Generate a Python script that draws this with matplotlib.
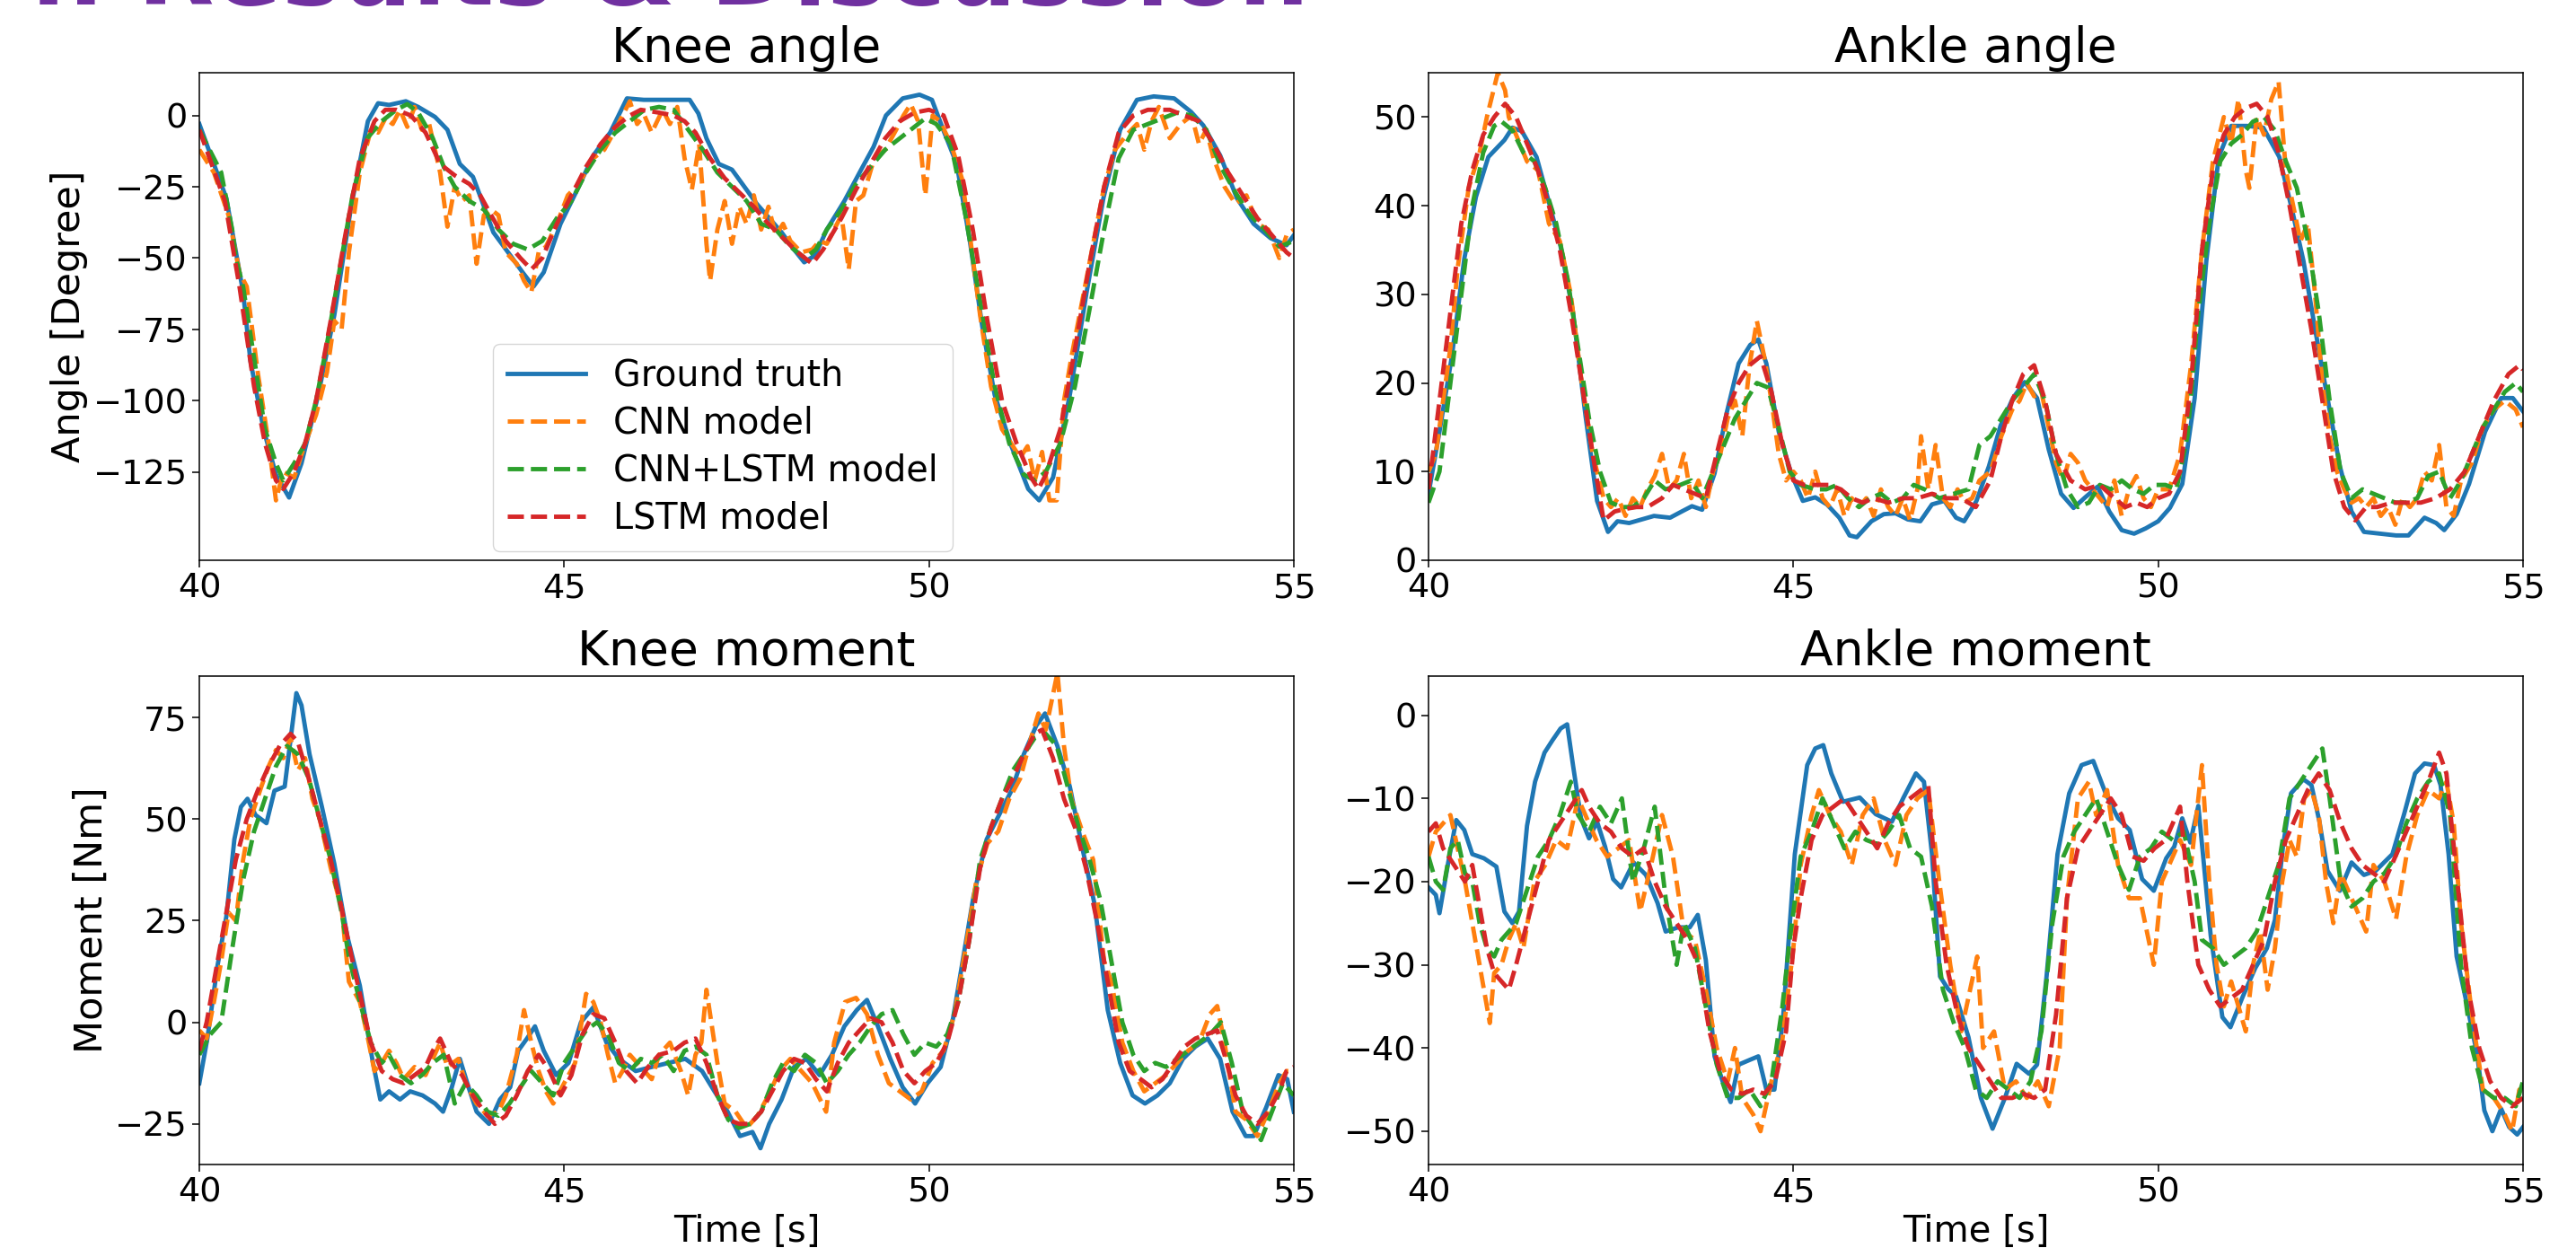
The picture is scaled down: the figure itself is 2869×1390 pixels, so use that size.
import matplotlib
matplotlib.use("Agg")
import matplotlib.pyplot as plt

# ---------------- data (time [s], value) ----------------
time_ticks = [40, 45, 50, 55]
series_labels = ["Ground truth", "CNN model", "CNN+LSTM model", "LSTM model"]

knee_angle_gt = [(40, -3), (40.37, -29), (40.6, -62), (40.7, -86), (40.88, -110), (41.05, -126), (41.23, -134),
                 (41.4, -122), (41.63, -98), (41.85, -70), (42.08, -32), (42.31, -2), (42.45, 4.3), (42.6, 3.7),
                 (42.83, 5), (43.0, 3), (43.23, -0.5), (43.4, -5), (43.57, -17), (43.75, -21.5), (43.86, -29),
                 (44.03, -41), (44.26, -49), (44.43, -55), (44.58, -60), (44.72, -55), (44.95, -38), (45.18, -26),
                 (45.4, -14), (45.63, -6), (45.86, 6), (46.09, 5.5), (46.43, 5.5), (46.72, 5.5), (46.84, 0.7),
                 (46.95, -8), (47.12, -17), (47.3, -19), (47.47, -25), (47.64, -31), (47.81, -36), (47.98, -41),
                 (48.15, -47), (48.29, -51.5), (48.44, -49), (48.6, -40), (48.84, -30), (49.07, -19), (49.24, -11),
                 (49.41, 0), (49.64, 6), (49.87, 7.3), (50.04, 5.5), (50.21, -6), (50.38, -17), (50.56, -44),
                 (50.73, -74), (50.9, -98), (51.13, -116), (51.36, -131), (51.51, -135), (51.7, -127), (51.93, -98),
                 (52.16, -62), (52.39, -29), (52.62, -5), (52.85, 5.5), (53.08, 6.7), (53.36, 6), (53.59, 1.3),
                 (53.76, -3.5), (53.99, -14), (54.22, -29), (54.45, -38), (54.68, -43), (54.9, -45.5), (55, -42)]

knee_angle_cnn = [(40, -12), (40.2, -20), (40.4, -35), (40.55, -55), (40.65, -60), (40.8, -90), (40.95, -115),
                  (41.05, -135), (41.15, -125), (41.3, -127), (41.45, -115), (41.6, -105), (41.75, -90),
                  (41.85, -72), (41.95, -75), (42.05, -48), (42.2, -20), (42.35, -5), (42.45, -6), (42.55, -1),
                  (42.65, -3), (42.75, 2), (42.85, -4), (42.95, 3), (43.05, -5), (43.15, -3), (43.3, -20),
                  (43.4, -39), (43.5, -25), (43.6, -30), (43.7, -28), (43.8, -52), (43.9, -35), (44.0, -33),
                  (44.1, -35), (44.2, -48), (44.35, -52), (44.45, -58), (44.55, -62), (44.65, -48), (44.75, -46),
                  (44.9, -38), (45.05, -28), (45.2, -24), (45.4, -15), (45.55, -12), (45.7, -5), (45.8, 0),
                  (45.9, 5), (46.0, -3), (46.1, 0), (46.2, -6), (46.35, 2), (46.45, -3), (46.55, 3), (46.65, -15),
                  (46.75, -26), (46.85, -10), (46.95, -45), (47.0, -58), (47.1, -40), (47.2, -30), (47.3, -45),
                  (47.4, -32), (47.5, -38), (47.6, -28), (47.7, -40), (47.8, -32), (47.9, -42), (48.0, -38),
                  (48.1, -44), (48.25, -48), (48.4, -47), (48.5, -44), (48.6, -45), (48.7, -40), (48.8, -35),
                  (48.9, -54), (49.0, -30), (49.1, -28), (49.25, -15), (49.4, -12), (49.55, -5), (49.65, 0),
                  (49.75, 4), (49.85, -2), (49.95, -28), (50.05, 0), (50.15, -2), (50.3, -10), (50.45, -22),
                  (50.55, -40), (50.7, -70), (50.85, -95), (51.0, -110), (51.15, -116), (51.25, -120),
                  (51.35, -116), (51.45, -128), (51.55, -118), (51.65, -135), (51.75, -135), (51.85, -100),
                  (51.95, -85), (52.1, -65), (52.25, -45), (52.4, -25), (52.55, -12), (52.7, -7), (52.85, -3),
                  (52.95, -12), (53.05, -2), (53.15, 3), (53.3, -8), (53.45, -3), (53.6, 0), (53.7, -10),
                  (53.8, -5), (53.9, -15), (54.05, -25), (54.2, -31), (54.35, -28), (54.5, -38), (54.65, -40),
                  (54.8, -50), (54.9, -42), (55, -40)]

knee_angle_cnn_lstm = [(40, -5), (40.3, -20), (40.45, -40), (40.5, -50), (40.6, -60), (40.75, -85), (40.9, -110),
                       (41.05, -122), (41.15, -128), (41.3, -122), (41.45, -115), (41.6, -100), (41.75, -80),
                       (41.95, -50), (42.1, -28), (42.3, -8), (42.5, -2), (42.7, 2), (42.85, 4), (43.0, 1),
                       (43.2, -8), (43.35, -18), (43.5, -25), (43.7, -30), (43.9, -33), (44.1, -40), (44.3, -45),
                       (44.5, -47), (44.7, -44), (44.9, -36), (45.1, -30), (45.3, -20), (45.5, -12), (45.7, -6),
                       (45.9, -2), (46.1, 2), (46.3, 3), (46.5, 2), (46.7, -5), (46.9, -12), (47.1, -20),
                       (47.3, -25), (47.5, -30), (47.7, -38), (47.9, -40), (48.1, -46), (48.3, -50), (48.45, -47),
                       (48.6, -40), (48.8, -33), (49.0, -24), (49.2, -18), (49.4, -12), (49.6, -8), (49.8, -4),
                       (49.95, -1), (50.1, -3), (50.3, -10), (50.5, -35), (50.7, -65), (50.9, -95), (51.1, -115),
                       (51.3, -126), (51.45, -128), (51.6, -125), (51.8, -115), (52.0, -95), (52.2, -68),
                       (52.4, -40), (52.6, -15), (52.8, -5), (53.0, -3), (53.2, -1), (53.4, 1), (53.6, 0),
                       (53.8, -5), (54.0, -18), (54.2, -27), (54.4, -35), (54.6, -40), (54.8, -46), (55, -44)]

knee_angle_lstm = [(40, -5), (40.35, -30), (40.55, -60), (40.75, -95), (40.9, -115), (41.05, -128), (41.15, -131),
                   (41.3, -125), (41.45, -115), (41.6, -100), (41.8, -72), (42.0, -42), (42.2, -15), (42.4, -2),
                   (42.55, 2), (42.7, 2), (42.9, 0), (43.1, -6), (43.3, -17), (43.5, -21), (43.7, -24),
                   (43.85, -28), (44.0, -35), (44.2, -44), (44.4, -50), (44.55, -54), (44.7, -50), (44.9, -38),
                   (45.1, -28), (45.3, -18), (45.5, -10), (45.7, -4), (45.9, 0), (46.05, 2), (46.3, 1),
                   (46.5, 0), (46.65, -2), (46.8, -6), (47.0, -15), (47.2, -22), (47.4, -27), (47.6, -32),
                   (47.8, -38), (48.0, -43), (48.2, -48), (48.4, -52), (48.55, -47), (48.8, -36), (49.0, -26),
                   (49.2, -17), (49.4, -8), (49.6, -2), (49.8, 1), (50.0, 2), (50.2, 0), (50.4, -14),
                   (50.6, -40), (50.8, -72), (51.0, -100), (51.2, -115), (51.4, -127), (51.5, -131),
                   (51.6, -126), (51.8, -110), (52.0, -82), (52.2, -52), (52.4, -25), (52.6, -6), (52.8, 0),
                   (53.0, 2), (53.3, 2), (53.5, 0), (53.7, -2), (53.9, -10), (54.1, -20), (54.3, -28),
                   (54.5, -36), (54.7, -42), (54.9, -48), (55, -50)]

ankle_angle_gt = [(40, 7.5), (40.15, 14.5), (40.32, 23), (40.49, 34), (40.65, 41), (40.82, 45.5), (41.04, 47.4),
                  (41.15, 48.8), (41.28, 48.4), (41.48, 45.5), (41.65, 40.4), (41.81, 35.4), (41.98, 28),
                  (42.15, 16.4), (42.31, 6.7), (42.46, 3.2), (42.59, 4.4), (42.75, 4.2), (42.92, 4.6), (43.09, 5),
                  (43.31, 4.8), (43.47, 5.5), (43.61, 6.1), (43.75, 5.7), (43.92, 9.8), (44.08, 16.4),
                  (44.25, 22.2), (44.41, 24.3), (44.52, 24.9), (44.63, 22.2), (44.8, 14.5), (44.97, 9.8),
                  (45.13, 6.7), (45.3, 7.1), (45.46, 6.3), (45.63, 4.8), (45.77, 2.8), (45.87, 2.6), (46.07, 4.4),
                  (46.24, 5.2), (46.4, 5.3), (46.57, 4.6), (46.74, 4.4), (46.9, 6.3), (47.07, 6.7), (47.23, 4.8),
                  (47.34, 4.4), (47.51, 6.7), (47.68, 10.6), (47.84, 15.2), (48.01, 18.3), (48.17, 20.1),
                  (48.34, 18.3), (48.5, 12.5), (48.67, 7.5), (48.84, 5.9), (49.0, 7.1), (49.17, 8.3),
                  (49.33, 5.5), (49.5, 3.4), (49.67, 3), (49.83, 3.6), (50.0, 4.4), (50.16, 5.9), (50.33, 8.6),
                  (50.5, 18.3), (50.66, 33.8), (50.83, 45.5), (51.0, 49), (51.22, 49), (51.44, 48.8),
                  (51.66, 45.5), (51.83, 39.7), (51.99, 33.8), (52.15, 26.1), (52.32, 18.3), (52.49, 10.6),
                  (52.65, 5.5), (52.82, 3.2), (53.04, 3), (53.26, 2.8), (53.43, 2.8), (53.65, 4.8), (53.81, 4.2),
                  (53.92, 3.4), (54.09, 5.2), (54.26, 8.6), (54.48, 14.5), (54.7, 18.3), (54.86, 18.3), (55, 16.8)]

ankle_angle_cnn = [(40, 10), (40.1, 12), (40.2, 18), (40.3, 24), (40.4, 33), (40.55, 42), (40.7, 46), (40.8, 50),
                   (40.95, 55), (41.05, 53), (41.1, 50), (41.2, 48), (41.35, 45), (41.5, 44), (41.65, 38),
                   (41.8, 36), (41.95, 30), (42.1, 20), (42.25, 12), (42.4, 7), (42.5, 6), (42.6, 7), (42.7, 5),
                   (42.8, 7), (42.9, 6), (43.0, 8), (43.1, 9.5), (43.2, 12), (43.3, 8), (43.4, 9), (43.5, 12),
                   (43.6, 7), (43.7, 9), (43.8, 6), (43.9, 10), (44.0, 12), (44.1, 16), (44.2, 18), (44.3, 14),
                   (44.4, 22), (44.5, 27), (44.6, 23), (44.7, 18), (44.8, 12), (44.9, 9), (45.0, 10), (45.1, 9),
                   (45.2, 7), (45.3, 10), (45.4, 7), (45.5, 6), (45.6, 8), (45.7, 5), (45.8, 7), (45.9, 6),
                   (46.0, 7), (46.1, 5), (46.2, 8), (46.3, 6), (46.4, 5), (46.5, 7), (46.6, 4.5), (46.7, 8),
                   (46.75, 14), (46.85, 8), (46.95, 13), (47.05, 7), (47.15, 6), (47.25, 8), (47.35, 6.5),
                   (47.45, 7), (47.55, 9), (47.7, 10), (47.85, 14), (48.0, 17), (48.1, 18), (48.2, 20),
                   (48.3, 18.5), (48.4, 19), (48.5, 15), (48.6, 11), (48.7, 9), (48.8, 12), (48.9, 11), (49.0, 9),
                   (49.1, 8), (49.2, 7), (49.3, 6), (49.4, 9), (49.5, 5), (49.6, 8), (49.7, 9.5), (49.8, 7),
                   (49.9, 6), (50.0, 8), (50.15, 8), (50.3, 12), (50.45, 22), (50.6, 35), (50.75, 45), (50.9, 50),
                   (51.0, 47), (51.1, 52), (51.2, 44), (51.25, 42), (51.35, 50), (51.45, 48), (51.55, 52),
                   (51.65, 54), (51.75, 44), (51.85, 40), (51.95, 36), (52.05, 38), (52.15, 30), (52.25, 20),
                   (52.35, 14), (52.45, 10), (52.55, 8), (52.65, 6.5), (52.75, 7), (52.85, 6), (52.95, 7),
                   (53.05, 5), (53.15, 6), (53.25, 4), (53.35, 7), (53.45, 6), (53.55, 7), (53.65, 10),
                   (53.75, 9), (53.85, 13), (53.95, 6), (54.05, 5), (54.15, 9), (54.3, 11), (54.45, 15),
                   (54.6, 17), (54.75, 18), (54.9, 17), (55, 15)]

ankle_angle_cnn_lstm = [(40, 6.5), (40.15, 10), (40.3, 20), (40.45, 30), (40.6, 40), (40.75, 46), (40.9, 49),
                        (41.0, 49.5), (41.15, 48.5), (41.3, 46), (41.45, 45), (41.6, 42), (41.75, 38), (41.9, 32),
                        (42.05, 24), (42.2, 16), (42.35, 10), (42.5, 6.5), (42.65, 6), (42.8, 6), (42.95, 7),
                        (43.1, 9), (43.25, 8), (43.45, 8.5), (43.6, 9), (43.75, 7), (43.9, 10), (44.05, 13),
                        (44.2, 16), (44.35, 18), (44.5, 20), (44.65, 19.5), (44.8, 15), (44.95, 10), (45.1, 8.5),
                        (45.3, 8), (45.45, 8), (45.6, 8.5), (45.75, 7), (45.9, 6), (46.05, 7), (46.2, 7.5),
                        (46.35, 6.5), (46.5, 7), (46.65, 8.5), (46.8, 8), (47.0, 7), (47.2, 7.5), (47.4, 8),
                        (47.55, 13), (47.7, 14), (47.85, 16), (48.0, 18), (48.15, 19.5), (48.3, 21), (48.45, 18),
                        (48.6, 12), (48.75, 8), (48.9, 6), (49.05, 6.5), (49.2, 8.5), (49.35, 8), (49.5, 9),
                        (49.65, 8), (49.8, 7.5), (49.95, 8.5), (50.1, 8.5), (50.25, 8), (50.4, 14), (50.55, 28),
                        (50.7, 38), (50.85, 45), (51.0, 47), (51.15, 48), (51.3, 49.5), (51.45, 50), (51.6, 48.5),
                        (51.75, 45), (51.9, 42), (52.05, 36), (52.2, 28), (52.35, 18), (52.5, 10), (52.65, 7),
                        (52.8, 8), (52.95, 7.5), (53.1, 7), (53.25, 6.5), (53.4, 6.5), (53.55, 7), (53.7, 9.5),
                        (53.85, 10), (54.0, 7), (54.15, 9), (54.3, 12), (54.45, 15), (54.6, 17), (54.75, 19),
                        (54.9, 20), (55, 19)]

ankle_angle_lstm = [(40, 8), (40.15, 18), (40.3, 28), (40.45, 38), (40.6, 44), (40.75, 48), (40.9, 50),
                    (41.05, 51.5), (41.2, 50), (41.35, 47), (41.5, 44), (41.65, 40), (41.8, 35), (41.95, 28),
                    (42.1, 20), (42.25, 12), (42.4, 4.5), (42.55, 5.5), (42.7, 5.8), (42.85, 6), (43.0, 6),
                    (43.2, 7), (43.35, 8.5), (43.5, 8), (43.65, 7.5), (43.8, 7), (43.95, 12), (44.1, 17),
                    (44.25, 20), (44.4, 22), (44.55, 23), (44.7, 19), (44.85, 13), (45.0, 9), (45.15, 8.5),
                    (45.3, 8.5), (45.5, 8.5), (45.65, 8), (45.8, 7), (45.95, 6.5), (46.1, 7), (46.3, 6.5),
                    (46.5, 7), (46.7, 7), (46.9, 7.5), (47.1, 7), (47.3, 7), (47.5, 6), (47.7, 9), (47.85, 14),
                    (48.0, 18), (48.15, 21), (48.3, 22), (48.45, 18), (48.6, 12), (48.8, 9), (49.0, 8),
                    (49.2, 8.5), (49.4, 7), (49.55, 6), (49.7, 6.5), (49.85, 6), (50.0, 7), (50.15, 7.5),
                    (50.3, 10), (50.45, 20), (50.6, 35), (50.75, 44), (50.9, 48), (51.05, 50), (51.2, 51),
                    (51.35, 51.5), (51.5, 50), (51.65, 46), (51.8, 40), (51.95, 33), (52.1, 26), (52.25, 18),
                    (52.4, 10), (52.55, 6), (52.7, 4.5), (52.85, 6), (53.0, 6), (53.2, 6.5), (53.4, 6.5),
                    (53.6, 6.5), (53.8, 7), (54.0, 8), (54.2, 10), (54.4, 14), (54.6, 18), (54.8, 21),
                    (54.95, 22), (55, 21.5)]

knee_moment_gt = [(40, -15), (40.11, -4), (40.25, 14), (40.37, 26), (40.48, 45), (40.57, 53), (40.66, 55),
                  (40.77, 51), (40.92, 49), (41.03, 57), (41.17, 58), (41.26, 71), (41.33, 81), (41.4, 78),
                  (41.51, 66), (41.68, 53), (41.85, 39), (42.03, 21), (42.2, 9), (42.37, -9), (42.48, -19),
                  (42.6, -17), (42.75, -19), (42.89, -17), (43.06, -18), (43.23, -20), (43.34, -22), (43.46, -16),
                  (43.57, -9), (43.69, -16), (43.8, -22), (43.97, -25), (44.12, -19), (44.26, -16), (44.37, -7),
                  (44.49, -4), (44.6, -1), (44.72, -7), (44.89, -13), (45.06, -10), (45.23, 0), (45.4, 3.7),
                  (45.58, -5), (45.75, -9), (45.98, -12), (46.2, -11), (46.43, -10), (46.66, -9), (46.89, -12),
                  (47.06, -17), (47.24, -22), (47.41, -28), (47.58, -27), (47.69, -31), (47.81, -25),
                  (47.98, -19), (48.15, -11), (48.32, -9), (48.5, -13), (48.67, -8), (48.84, -1), (49.01, 3),
                  (49.15, 5.5), (49.3, -1), (49.47, -9), (49.64, -16), (49.81, -20), (49.98, -15), (50.16, -11),
                  (50.33, 1), (50.47, 16), (50.61, 31), (50.79, 45), (50.96, 51), (51.13, 57), (51.3, 66),
                  (51.47, 73), (51.59, 76), (51.76, 68), (51.93, 58), (52.1, 43), (52.27, 29), (52.45, 3),
                  (52.62, -10), (52.79, -18), (52.96, -20), (53.13, -18), (53.3, -15), (53.48, -9), (53.65, -6),
                  (53.82, -4), (53.99, -9), (54.16, -22), (54.34, -28), (54.45, -28), (54.62, -21), (54.79, -13),
                  (54.91, -14), (55, -22)]

knee_moment_cnn = [(40, -2), (40.1, -4), (40.2, 5), (40.3, 15), (40.4, 27), (40.5, 25), (40.6, 40), (40.7, 50),
                   (40.85, 58), (40.95, 63), (41.05, 67), (41.15, 65), (41.25, 70), (41.35, 62), (41.45, 65),
                   (41.55, 55), (41.65, 50), (41.8, 38), (41.95, 28), (42.05, 10), (42.2, 5), (42.3, -3),
                   (42.4, -12), (42.5, -10), (42.6, -7), (42.7, -10), (42.8, -14), (42.95, -11), (43.1, -13),
                   (43.2, -9), (43.3, -5), (43.4, -11), (43.55, -9), (43.65, -15), (43.8, -20), (43.95, -23),
                   (44.1, -22), (44.2, -18), (44.35, -8), (44.45, 3), (44.55, -5), (44.65, -12), (44.75, -17),
                   (44.85, -20), (45.0, -15), (45.15, -10), (45.3, 7), (45.4, 5), (45.5, 0), (45.6, -8),
                   (45.7, -15), (45.8, -12), (45.9, -8), (46.05, -11), (46.2, -14), (46.3, -8), (46.45, -5),
                   (46.6, -12), (46.7, -18), (46.8, -8), (46.88, -5), (46.95, 8), (47.1, -10), (47.2, -20),
                   (47.35, -22), (47.5, -26), (47.65, -23), (47.8, -18), (47.95, -12), (48.1, -9), (48.25, -12),
                   (48.4, -15), (48.59, -22), (48.7, -5), (48.85, 5), (49.0, 6), (49.15, 2), (49.3, -8),
                   (49.45, -15), (49.6, -17), (49.75, -19), (49.9, -17), (50.05, -10), (50.2, -7), (50.35, 2),
                   (50.5, 18), (50.65, 35), (50.8, 44), (50.95, 47), (51.1, 55), (51.25, 60), (51.4, 70),
                   (51.5, 76), (51.6, 72), (51.76, 86), (51.85, 68), (51.95, 55), (52.1, 47), (52.25, 40),
                   (52.4, 15), (52.5, 10), (52.65, -5), (52.8, -12), (52.95, -17), (53.1, -15), (53.25, -13),
                   (53.4, -10), (53.55, -7), (53.7, -5), (53.85, 2), (53.95, 4), (54.05, -5), (54.2, -22),
                   (54.35, -24), (54.5, -28), (54.65, -22), (54.8, -15), (54.9, -12), (55, -12)]

knee_moment_cnn_lstm = [(40, -8), (40.15, -3), (40.3, 0), (40.45, 18), (40.6, 35), (40.75, 47), (40.9, 55),
                        (41.05, 63), (41.2, 68), (41.35, 66), (41.5, 60), (41.65, 50), (41.8, 40), (41.95, 27),
                        (42.05, 16), (42.2, 5), (42.35, -5), (42.5, -10), (42.6, -8), (42.75, -13), (42.9, -15),
                        (43.05, -13), (43.2, -10), (43.35, -8), (43.5, -20), (43.65, -15), (43.8, -18),
                        (43.95, -22), (44.1, -23), (44.25, -20), (44.4, -16), (44.55, -12), (44.7, -15),
                        (44.85, -18), (45.0, -10), (45.15, -6), (45.3, -2), (45.45, 0), (45.6, -3), (45.75, -10),
                        (45.9, -12), (46.05, -9), (46.2, -10), (46.35, -8), (46.5, -12), (46.65, -7), (46.8, -6),
                        (46.95, -8), (47.1, -18), (47.25, -24), (47.4, -26), (47.55, -25), (47.7, -22),
                        (47.85, -15), (48.0, -10), (48.15, -12), (48.3, -8), (48.45, -10), (48.6, -15),
                        (48.75, -12), (48.9, -8), (49.05, -5), (49.2, -1), (49.35, 2), (49.5, 3), (49.65, -3),
                        (49.8, -8), (49.95, -5), (50.1, -6), (50.25, -3), (50.4, 5), (50.55, 20), (50.7, 40),
                        (50.85, 48), (51.0, 55), (51.15, 62), (51.3, 66), (51.45, 70), (51.6, 71), (51.75, 68),
                        (51.9, 58), (52.05, 48), (52.2, 40), (52.35, 30), (52.5, 15), (52.65, 0), (52.8, -8),
                        (52.95, -12), (53.1, -10), (53.25, -11), (53.4, -9), (53.55, -7), (53.7, -5), (53.85, -3),
                        (54.0, 0), (54.15, -10), (54.3, -22), (54.45, -26), (54.55, -29), (54.7, -22),
                        (54.85, -15), (55, -18)]

knee_moment_lstm = [(40, -7), (40.1, 0), (40.2, 10), (40.35, 25), (40.5, 40), (40.65, 50), (40.8, 57),
                    (40.95, 63), (41.1, 68), (41.25, 71), (41.35, 69), (41.5, 60), (41.65, 50), (41.8, 40),
                    (41.95, 28), (42.1, 15), (42.25, 3), (42.35, -5), (42.5, -12), (42.65, -14), (42.8, -15),
                    (42.95, -13), (43.1, -11), (43.2, -7), (43.3, -4), (43.45, -10), (43.6, -13), (43.75, -18),
                    (43.9, -22), (44.05, -25), (44.2, -23), (44.35, -18), (44.5, -12), (44.65, -8), (44.8, -12),
                    (44.95, -18), (45.1, -13), (45.25, -3), (45.4, 2), (45.55, 1), (45.7, -5), (45.85, -12),
                    (46.0, -15), (46.15, -11), (46.3, -8), (46.5, -7), (46.65, -5), (46.8, -4), (46.95, -10),
                    (47.1, -18), (47.25, -24), (47.4, -25), (47.55, -25), (47.7, -22), (47.85, -17),
                    (48.0, -12), (48.15, -9), (48.3, -10), (48.45, -14), (48.6, -17), (48.75, -10), (48.9, -5),
                    (49.05, -2), (49.2, 1), (49.35, 0), (49.5, -5), (49.65, -12), (49.8, -15), (49.95, -12),
                    (50.1, -10), (50.25, -5), (50.4, 5), (50.55, 20), (50.7, 38), (50.85, 48), (51.0, 55),
                    (51.15, 60), (51.3, 66), (51.45, 71), (51.55, 72), (51.7, 65), (51.85, 55), (52.0, 48),
                    (52.15, 38), (52.3, 25), (52.45, 10), (52.6, -5), (52.75, -12), (52.9, -14), (53.05, -16),
                    (53.2, -14), (53.35, -10), (53.5, -6), (53.65, -4), (53.8, -3), (53.95, -2), (54.05, -8),
                    (54.2, -18), (54.35, -23), (54.5, -25), (54.65, -22), (54.8, -17), (54.9, -12), (55, -11)]

ankle_moment_gt = [(40, -20.7), (40.1, -21.6), (40.15, -23.8), (40.27, -17.7), (40.38, -12.6), (40.49, -13.8),
                   (40.6, -16.7), (40.76, -17.2), (40.93, -18.2), (41.04, -23.6), (41.15, -25), (41.24, -23.6),
                   (41.35, -13.3), (41.46, -8), (41.59, -4.5), (41.7, -3), (41.81, -1.6), (41.9, -1.1),
                   (41.98, -6), (42.09, -12.4), (42.2, -14.8), (42.31, -12.8), (42.42, -15.8), (42.53, -19.7),
                   (42.64, -20.7), (42.81, -17.7), (42.98, -19.2), (43.14, -22.6), (43.25, -26), (43.42, -25.5),
                   (43.58, -25.5), (43.69, -24), (43.8, -29.4), (43.92, -41), (44.03, -44), (44.14, -46.5),
                   (44.25, -42), (44.41, -41.4), (44.52, -41), (44.63, -45), (44.74, -45), (44.86, -36.3),
                   (45.02, -16.7), (45.19, -6), (45.3, -4), (45.41, -3.6), (45.52, -7), (45.68, -10.4),
                   (45.91, -9.9), (46.13, -11.9), (46.35, -12.8), (46.51, -9.9), (46.68, -7), (46.79, -8),
                   (46.9, -16.7), (47.01, -31.4), (47.12, -32.9), (47.23, -33.8), (47.4, -38.7), (47.57, -46),
                   (47.73, -49.7), (47.9, -46), (48.06, -41.9), (48.23, -43.1), (48.34, -42), (48.47, -31.4),
                   (48.62, -16.7), (48.78, -9.4), (48.95, -6), (49.11, -5.5), (49.28, -9.4), (49.45, -12.4),
                   (49.61, -13.8), (49.78, -19.7), (49.94, -21.1), (50.11, -17.2), (50.22, -15.8), (50.33, -12.4),
                   (50.44, -15.3), (50.55, -10.9), (50.72, -26.5), (50.88, -36.3), (50.99, -37.5), (51.16, -33.8),
                   (51.33, -30.4), (51.49, -28), (51.6, -24.6), (51.71, -15.8), (51.82, -9.4), (51.99, -7.7),
                   (52.1, -8.4), (52.21, -12.8), (52.32, -18.7), (52.49, -21.1), (52.65, -17.7), (52.82, -19.2),
                   (52.98, -18.7), (53.21, -16.7), (53.37, -11.9), (53.52, -7), (53.65, -5.8), (53.78, -6),
                   (53.87, -8.4), (53.98, -16.7), (54.09, -29), (54.22, -34.3), (54.37, -40.7), (54.47, -47.5),
                   (54.58, -50), (54.7, -47.3), (54.81, -49.5), (54.92, -50.4), (55, -49.5)]

ankle_moment_cnn = [(40, -17), (40.1, -14), (40.2, -13), (40.3, -12), (40.4, -16), (40.5, -20), (40.6, -25),
                    (40.7, -30), (40.84, -37), (40.9, -31), (41.0, -30), (41.1, -27), (41.2, -25), (41.3, -28),
                    (41.45, -20), (41.6, -18), (41.75, -15), (41.9, -16), (42.05, -10), (42.15, -12), (42.3, -15),
                    (42.45, -17), (42.6, -16), (42.75, -15), (42.9, -23.6), (43.05, -18), (43.2, -12),
                    (43.35, -17), (43.5, -26), (43.65, -27), (43.8, -33), (43.95, -40), (44.1, -44), (44.2, -40),
                    (44.3, -46), (44.45, -48), (44.55, -50), (44.7, -44), (44.85, -39), (45.0, -28), (45.1, -18),
                    (45.25, -12), (45.35, -9), (45.5, -12), (45.65, -14), (45.8, -18), (45.95, -12), (46.1, -10),
                    (46.25, -15), (46.4, -18), (46.55, -12), (46.7, -10), (46.85, -9), (47.0, -20), (47.15, -30),
                    (47.3, -38), (47.52, -29), (47.6, -40), (47.75, -38), (47.9, -45), (48.05, -44), (48.2, -46),
                    (48.35, -44), (48.5, -47), (48.65, -40), (48.75, -22), (48.9, -10), (49.05, -8), (49.15, -12),
                    (49.3, -9), (49.45, -18), (49.6, -22), (49.75, -22), (49.94, -30), (50.05, -20), (50.15, -18),
                    (50.3, -15), (50.45, -18), (50.6, -6), (50.7, -20), (50.8, -30), (50.9, -35), (51.0, -32),
                    (51.2, -38), (51.3, -30), (51.4, -26), (51.5, -33), (51.6, -28), (51.7, -20), (51.8, -15),
                    (51.9, -17), (52.0, -10), (52.1, -9), (52.2, -12), (52.3, -20), (52.4, -25), (52.5, -19),
                    (52.65, -22), (52.85, -26), (52.95, -18), (53.1, -20), (53.26, -24.5), (53.4, -17),
                    (53.55, -12), (53.7, -9), (53.85, -10), (53.95, -8), (54.05, -13), (54.15, -25), (54.3, -36),
                    (54.45, -45), (54.6, -46), (54.75, -48), (54.85, -50), (54.95, -45), (55, -46)]

ankle_moment_cnn_lstm = [(40, -17), (40.1, -20), (40.2, -21), (40.3, -16), (40.4, -15), (40.5, -19), (40.6, -20),
                         (40.7, -25), (40.8, -28), (40.9, -29), (41.0, -27), (41.1, -26), (41.2, -25),
                         (41.35, -21), (41.5, -17), (41.65, -15), (41.8, -12), (41.95, -8), (42.05, -12),
                         (42.2, -14), (42.35, -11), (42.5, -13), (42.65, -10), (42.8, -20), (42.95, -16),
                         (43.1, -11), (43.25, -22), (43.4, -30), (43.5, -25), (43.65, -28), (43.8, -35),
                         (43.95, -42), (44.1, -46), (44.25, -46), (44.4, -45), (44.55, -47), (44.7, -44),
                         (44.85, -35), (44.95, -27), (45.1, -17), (45.25, -14), (45.4, -10), (45.55, -13),
                         (45.7, -16), (45.85, -14), (46.0, -15), (46.15, -15.5), (46.3, -14), (46.45, -12),
                         (46.6, -16), (46.75, -17), (46.9, -23), (47.05, -33), (47.2, -37), (47.35, -40),
                         (47.5, -45), (47.65, -46), (47.8, -44), (47.95, -45), (48.1, -46), (48.25, -44),
                         (48.4, -38), (48.55, -25), (48.7, -17), (48.85, -14), (49.0, -12), (49.15, -10),
                         (49.3, -14), (49.45, -18), (49.6, -21), (49.75, -17), (49.9, -16), (50.05, -14),
                         (50.2, -15), (50.35, -14), (50.5, -20), (50.6, -27), (50.75, -28), (50.9, -30),
                         (51.05, -29), (51.2, -28), (51.35, -26), (51.5, -22), (51.65, -18), (51.8, -10),
                         (51.95, -8), (52.1, -6), (52.25, -4), (52.35, -10), (52.5, -20), (52.65, -23),
                         (52.8, -22), (52.95, -20), (53.1, -19), (53.25, -17), (53.4, -13), (53.55, -10),
                         (53.7, -8), (53.85, -7), (54.0, -12), (54.15, -30), (54.3, -40), (54.45, -45),
                         (54.6, -46), (54.75, -46), (54.9, -47), (55, -44)]

ankle_moment_lstm = [(40, -14), (40.1, -13), (40.2, -16), (40.35, -18), (40.5, -20), (40.6, -18), (40.7, -23),
                     (40.8, -28), (40.9, -31), (41.0, -32), (41.1, -33), (41.2, -30), (41.35, -25), (41.5, -20),
                     (41.65, -15), (41.8, -13), (41.95, -11), (42.1, -9), (42.2, -11), (42.35, -13), (42.5, -14),
                     (42.65, -16), (42.8, -17), (42.95, -16), (43.1, -20), (43.25, -23), (43.4, -25),
                     (43.55, -27), (43.7, -30), (43.85, -38), (44.0, -43), (44.15, -45), (44.3, -45.5),
                     (44.45, -45), (44.6, -45.5), (44.75, -44), (44.9, -38), (45.0, -28), (45.1, -22),
                     (45.25, -15), (45.4, -12), (45.55, -11), (45.7, -10), (45.85, -12), (46.0, -14),
                     (46.15, -16), (46.3, -13), (46.45, -11), (46.6, -10), (46.75, -9), (46.85, -8.5),
                     (46.95, -20), (47.1, -30), (47.25, -36), (47.4, -40), (47.55, -42), (47.7, -44),
                     (47.85, -46), (48.0, -46), (48.15, -45.5), (48.3, -46), (48.45, -45), (48.6, -36),
                     (48.75, -22), (48.9, -16), (49.05, -14), (49.2, -12), (49.35, -10), (49.5, -12),
                     (49.65, -17), (49.8, -17.5), (49.95, -16), (50.1, -15), (50.2, -13), (50.3, -11),
                     (50.4, -20), (50.55, -30), (50.7, -33), (50.85, -35), (51.0, -34), (51.15, -33),
                     (51.3, -30), (51.45, -27), (51.6, -20), (51.75, -15), (51.9, -12), (52.05, -9), (52.2, -7),
                     (52.35, -9), (52.5, -13), (52.65, -16), (52.8, -18), (52.95, -19), (53.1, -20), (53.25, -17),
                     (53.4, -14), (53.55, -11), (53.7, -8), (53.85, -4.5), (53.95, -7), (54.1, -20), (54.25, -33),
                     (54.4, -40), (54.55, -44), (54.7, -46), (54.85, -47), (55, -46)]

# ---------------- figure ----------------
W, H = 2869, 1390
fig = plt.figure(figsize=(W / 100, H / 100), dpi=100)

TICK_FS = 27.5
XLABEL_FS = 29
YLABEL_FS = 31
TITLE_FS = 38.5
LEGEND_FS = 28.5

colors = ["#1f77b4", "#ff7f0e", "#2ca02c", "#d62728"]
styles = ["-", "--", "--", "--"]


def px_axes(x0, y0, x1, y1):
    return fig.add_axes([x0 / W, 1 - y1 / H, (x1 - x0) / W, (y1 - y0) / H])


panels = [
    dict(rect=(222, 81, 1441, 624), title="Knee angle", ylim=(-156, 15), yticks=[0, -25, -50, -75, -100, -125],
         ylabel="Angle [Degree]", xlabel=None,
         data=[knee_angle_gt, knee_angle_cnn, knee_angle_cnn_lstm, knee_angle_lstm], legend=True),
    dict(rect=(1591, 81, 2810, 624), title="Ankle angle", ylim=(0, 55), yticks=[0, 10, 20, 30, 40, 50],
         ylabel=None, xlabel=None,
         data=[ankle_angle_gt, ankle_angle_cnn, ankle_angle_cnn_lstm, ankle_angle_lstm], legend=False),
    dict(rect=(222, 753, 1441, 1297), title="Knee moment", ylim=(-35, 85.2), yticks=[-25, 0, 25, 50, 75],
         ylabel="Moment [Nm]", xlabel="Time [s]",
         data=[knee_moment_gt, knee_moment_cnn, knee_moment_cnn_lstm, knee_moment_lstm], legend=False),
    dict(rect=(1591, 753, 2810, 1297), title="Ankle moment", ylim=(-54, 4.7), yticks=[0, -10, -20, -30, -40, -50],
         ylabel=None, xlabel="Time [s]",
         data=[ankle_moment_gt, ankle_moment_cnn, ankle_moment_cnn_lstm, ankle_moment_lstm], legend=False),
]

for p in panels:
    ax = px_axes(*p["rect"])
    for series, col, ls, lab in zip(p["data"], colors, styles, series_labels):
        t, v = zip(*series)
        ax.plot(t, v, color=col, linestyle=ls, linewidth=3.5, label=lab)
    ax.set_xlim(40, 55)
    ax.set_ylim(*p["ylim"])
    ax.set_xticks(time_ticks)
    ax.set_yticks(p["yticks"])
    ax.tick_params(labelsize=TICK_FS, length=6, width=1.1)
    ax.set_title(p["title"], fontsize=TITLE_FS, pad=9)
    if p["ylabel"]:
        ax.set_ylabel(p["ylabel"], fontsize=YLABEL_FS)
    if p["xlabel"]:
        ax.set_xlabel(p["xlabel"], fontsize=XLABEL_FS)
    for s in ax.spines.values():
        s.set_linewidth(1.1)
    if p["legend"]:
        ax.legend(loc="upper left", bbox_to_anchor=(0.268, 0.444), borderaxespad=0,
                  fontsize=LEGEND_FS, handlelength=2.2, labelspacing=0.33)

# slide heading cut off at the top edge
fig.text(1458 / W, 1 - 5 / H, "n Results & Discussion", ha="right", va="baseline",
         fontsize=80, fontweight="bold", color="#7030A0")

fig.savefig("out.png", dpi=100)
